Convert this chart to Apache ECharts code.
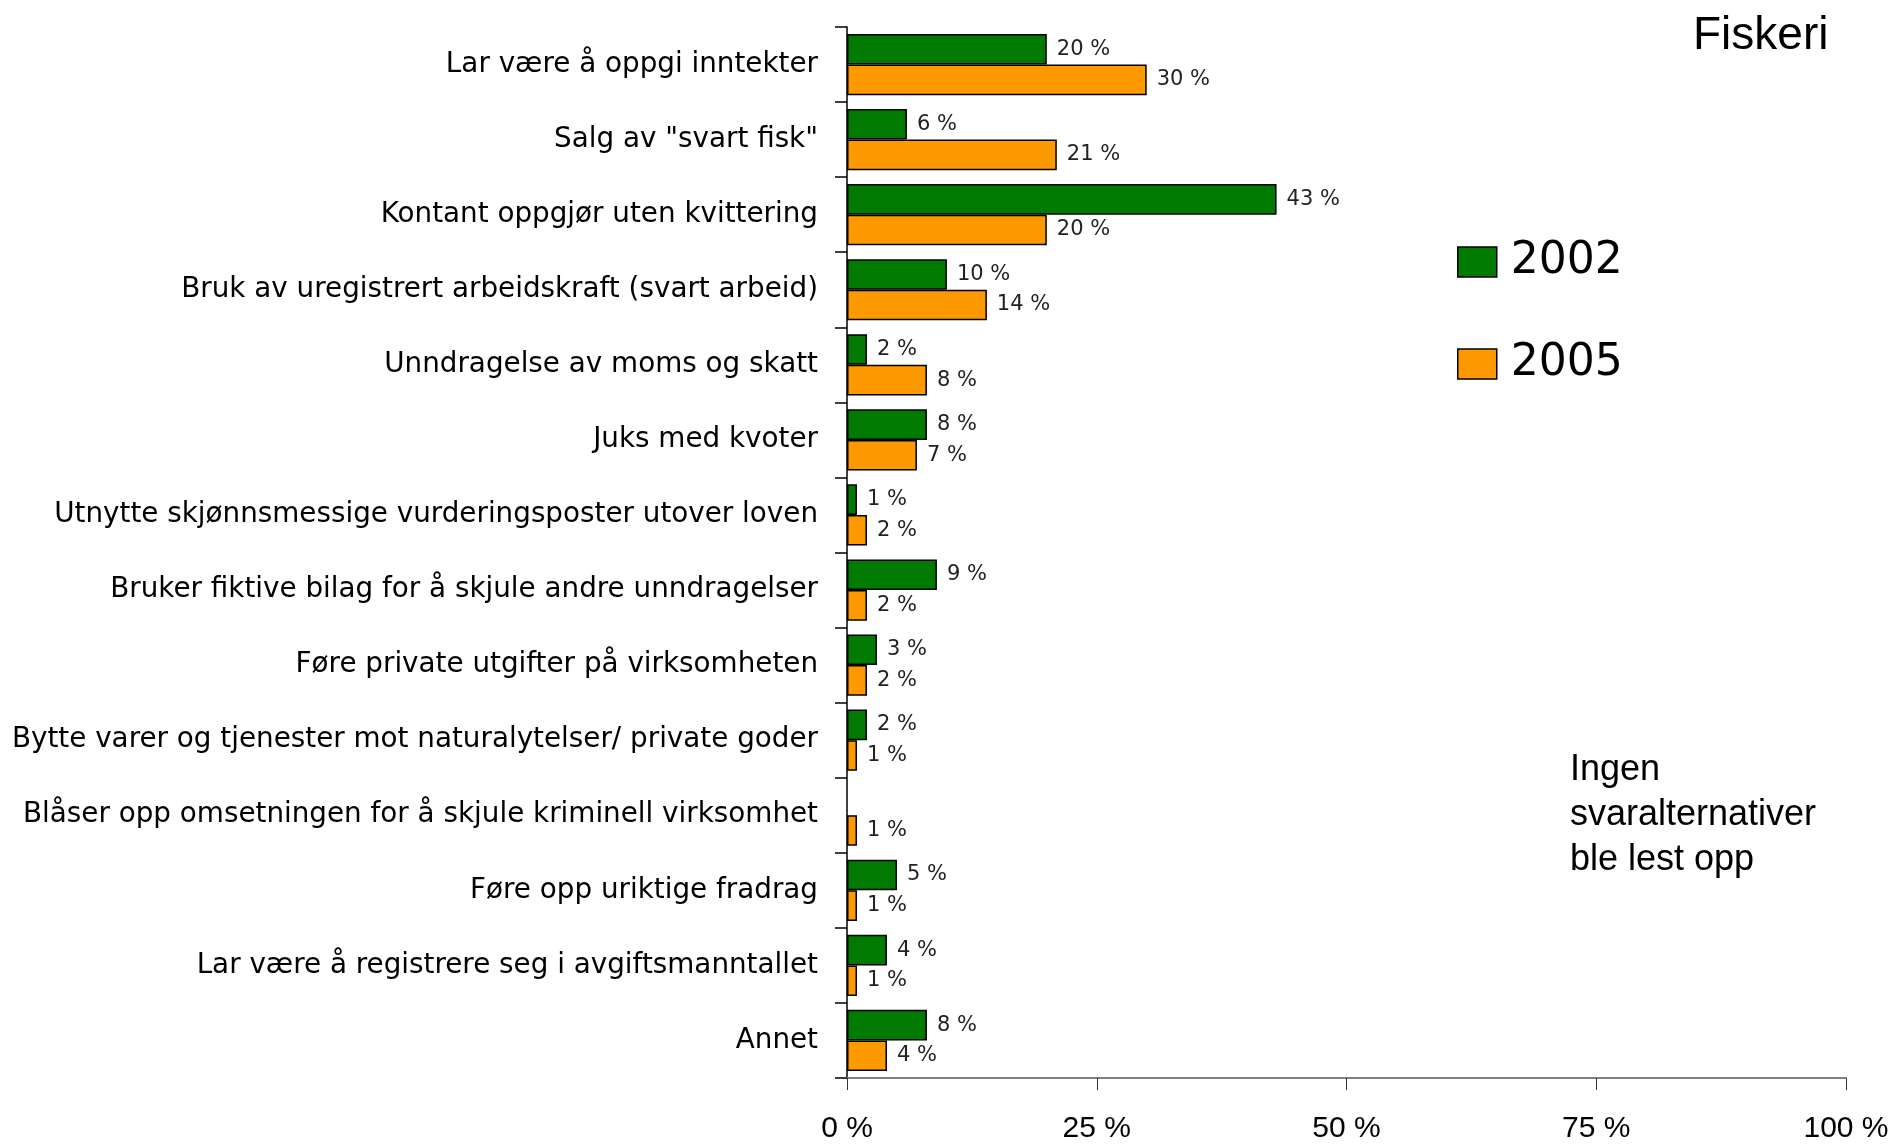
<!DOCTYPE html>
<html>
<head>
<meta charset="utf-8">
<script src="https://cdn.jsdelivr.net/npm/echarts@6/dist/echarts.min.js"></script>
<style>
html,body{margin:0;padding:0;background:#fff;}
#chart{width:1903px;height:1147px;}
</style>
</head>
<body>
<div id="chart"></div>
<script>
const categories = [
  'Lar være å oppgi inntekter',
  'Salg av "svart fisk"',
  'Kontant oppgjør uten kvittering',
  'Bruk av uregistrert arbeidskraft (svart arbeid)',
  'Unndragelse av moms og skatt',
  'Juks med kvoter',
  'Utnytte skjønnsmessige vurderingsposter utover loven',
  'Bruker fiktive bilag for å skjule andre unndragelser',
  'Føre private utgifter på virksomheten',
  'Bytte varer og tjenester mot naturalytelser/ private goder',
  'Blåser opp omsetningen for å skjule kriminell virksomhet',
  'Føre opp uriktige fradrag',
  'Lar være å registrere seg i avgiftsmanntallet',
  'Annet'
];
const values2002 = [20, 6, 43, 10, 2, 8, 1, 9, 3, 2, null, 5, 4, 8];
const values2005 = [30, 21, 20, 14, 8, 7, 2, 2, 2, 1, 1, 1, 1, 4];
const seriesNames = ['2002', '2005'];
const xTicks = [0, 25, 50, 75, 100];
const titleText = 'Fiskeri';
const noteText = 'Ingen\nsvaralternativer\nble lest opp';

const FONT = '"Liberation Sans", Arial, sans-serif';
const WIDE = '"DejaVu Sans", sans-serif';
const chart = echarts.init(document.getElementById('chart'));

const labelStyle = {
  show: true,
  position: 'right',
  distance: 10,
  formatter: p => p.value == null ? '' : p.value + ' %',
  fontFamily: WIDE,
  fontSize: 21,
  color: '#222',
  padding: [3, 0, 0, 0]
};

chart.setOption({
  animation: false,
  backgroundColor: '#fff',
  title: {
    text: titleText,
    left: 1693,
    top: 13,
    padding: 0,
    textStyle: { fontFamily: FONT, fontSize: 46, fontWeight: 'normal', color: '#000' }
  },
  legend: {
    orient: 'vertical',
    left: 1457,
    top: 240,
    padding: 0,
    icon: 'rect',
    itemWidth: 39,
    itemHeight: 30,
    itemGap: 58,
    data: seriesNames,
    itemStyle: { borderColor: '#000', borderWidth: 1.5 },
    textStyle: { fontFamily: WIDE, fontSize: 44, lineHeight: 44, color: '#000', padding: [0, 0, 0, 9] }
  },
  graphic: [{
    type: 'text',
    left: 1570,
    top: 748,
    style: {
      text: noteText,
      font: '36px ' + FONT,
      lineHeight: 45,
      fill: '#000'
    }
  }],
  grid: { left: 847, top: 27, right: 57, bottom: 69, containLabel: false },
  xAxis: {
    type: 'value',
    min: 0,
    max: 100,
    interval: 25,
    axisLine: { show: true, lineStyle: { color: '#808080', width: 2 } },
    axisTick: { show: true, length: 12, lineStyle: { color: '#333', width: 1 } },
    splitLine: { show: false },
    axisLabel: {
      margin: 36,
      formatter: v => xTicks.includes(v) ? v + ' %' : '',
      fontFamily: FONT,
      fontSize: 30,
      color: '#000'
    }
  },
  yAxis: {
    type: 'category',
    inverse: true,
    data: categories,
    axisLine: { show: true, lineStyle: { color: '#000', width: 1.5 } },
    axisTick: { show: true, length: 12, alignWithLabel: false, lineStyle: { color: '#000', width: 1.5 } },
    axisLabel: {
      interval: 0,
      margin: 29,
      fontFamily: WIDE,
      fontSize: 27.8,
      color: '#000',
      padding: [6, 0, 0, 0]
    }
  },
  series: [
    {
      name: seriesNames[0],
      type: 'bar',
      data: values2002,
      barGap: '0%',
      barCategoryGap: '18.5%',
      itemStyle: { color: '#007A00', borderColor: '#000', borderWidth: 1.5 },
      label: labelStyle
    },
    {
      name: seriesNames[1],
      type: 'bar',
      data: values2005,
      barGap: '0%',
      barCategoryGap: '18.5%',
      itemStyle: { color: '#FF9900', borderColor: '#000', borderWidth: 1.5 },
      label: labelStyle
    }
  ]
});
</script>
</body>
</html>
